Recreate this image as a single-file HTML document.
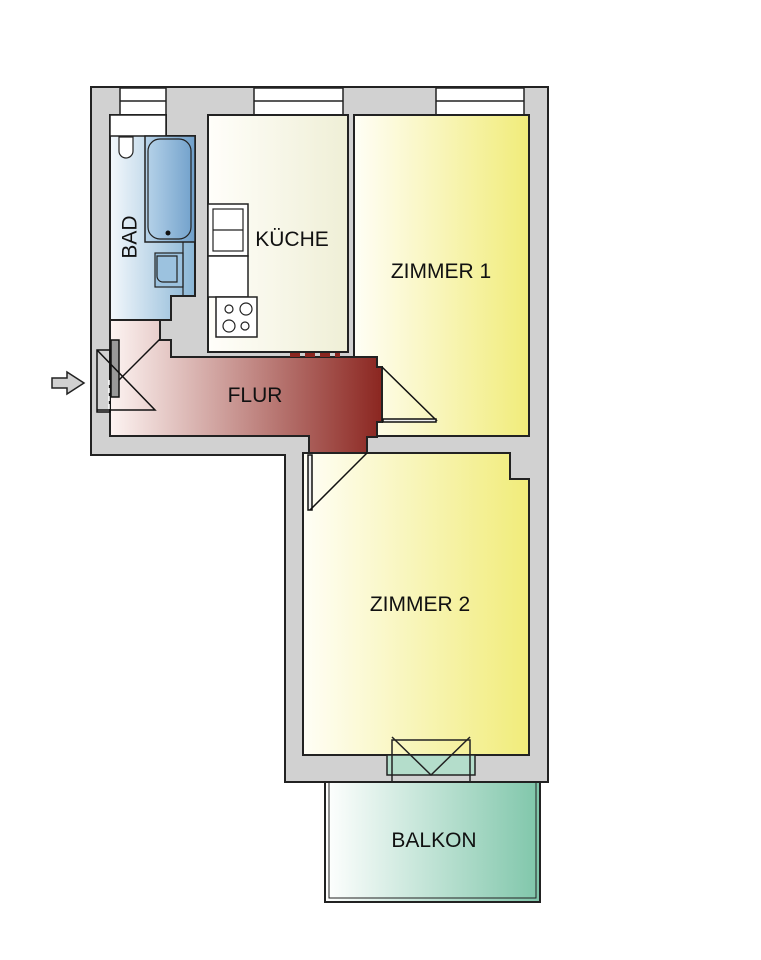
<!DOCTYPE html>
<html><head><meta charset="utf-8"><style>
html,body{margin:0;padding:0;background:#fff;}
svg{display:block;}
text{font-family:"Liberation Sans",sans-serif;font-size:21px;fill:#111;}
</style></head><body>
<svg width="761" height="960" viewBox="0 0 761 960" xmlns="http://www.w3.org/2000/svg">
<defs>
<linearGradient id="yel" x1="0" x2="1"><stop offset="0" stop-color="#fffef6"/><stop offset="1" stop-color="#f1ec7a"/></linearGradient>
<linearGradient id="kue" x1="0" x2="1"><stop offset="0" stop-color="#fffefa"/><stop offset="1" stop-color="#efefd6"/></linearGradient>
<linearGradient id="bad" x1="0" x2="1"><stop offset="0" stop-color="#f3f8fc"/><stop offset="1" stop-color="#8ab6d6"/></linearGradient>
<linearGradient id="tub" x1="0" x2="1"><stop offset="0" stop-color="#b8d4ea"/><stop offset="1" stop-color="#6f9fca"/></linearGradient>
<linearGradient id="flur" x1="0" x2="1"><stop offset="0" stop-color="#fdf4f2"/><stop offset="1" stop-color="#8b2620"/></linearGradient>
<linearGradient id="balk" x1="0" x2="1"><stop offset="0" stop-color="#ffffff"/><stop offset="1" stop-color="#7fc6aa"/></linearGradient>
</defs>
<polygon points="91,87 548,87 548,782 285,782 285,455 91,455" fill="#d1d1d1" stroke="#222" stroke-width="2"/>
<g fill="#fff" stroke="#222" stroke-width="1.5">
<rect x="120" y="88" width="46" height="27"/><line x1="120" y1="101" x2="166" y2="101"/>
<rect x="254" y="88" width="89" height="27"/><line x1="254" y1="101" x2="343" y2="101"/>
<rect x="436" y="88" width="88" height="27"/><line x1="436" y1="101" x2="524" y2="101"/>
</g>
<polygon points="110,115 166,115 166,136 195,136 195,296 171,296 171,320 110,320" fill="url(#bad)" stroke="#222" stroke-width="2"/>
<rect x="110" y="115" width="56" height="21" fill="#fff" stroke="#222" stroke-width="1.5"/>
<rect x="145" y="136" width="50" height="106" fill="url(#tub)" stroke="#222" stroke-width="1.5"/>
<rect x="148" y="139" width="43" height="100" rx="12" fill="none" stroke="#222" stroke-width="1.2"/>
<circle cx="168" cy="233" r="2.5" fill="#111"/>
<path d="M119,137 h14 v14 a7,7 0 0 1 -14,0 z" fill="#fff" stroke="#222" stroke-width="1.2"/>
<rect x="155" y="253" width="28" height="34" fill="#9cc2df" stroke="#222" stroke-width="1.2"/>
<path d="M157,256 h20 v26 h-14 a6,6 0 0 1 -6,-6z" fill="none" stroke="#222" stroke-width="1.2"/>
<line x1="183" y1="242" x2="183" y2="296" stroke="#222" stroke-width="1.2"/>
<rect x="208" y="115" width="140" height="237" fill="url(#kue)" stroke="#222" stroke-width="2"/>
<rect x="208" y="204" width="40" height="52" fill="#fff" stroke="#222" stroke-width="1.5"/>
<rect x="213" y="209" width="30" height="42" fill="none" stroke="#222" stroke-width="1.2"/>
<line x1="213" y1="230" x2="243" y2="230" stroke="#222" stroke-width="1.2"/>
<rect x="208" y="256" width="40" height="41" fill="#fff" stroke="#222" stroke-width="1.5"/>
<rect x="216" y="297" width="41" height="40" fill="#fff" stroke="#222" stroke-width="1.5"/>
<g fill="none" stroke="#222" stroke-width="1.2"><circle cx="229" cy="309" r="4"/><circle cx="246" cy="309" r="6"/><circle cx="229" cy="326" r="6"/><circle cx="245" cy="326" r="4"/></g>
<rect x="354" y="115" width="175" height="321" fill="url(#yel)" stroke="#222" stroke-width="2"/>
<polygon points="303,453 510,453 510,479 529,479 529,755 303,755" fill="url(#yel)" stroke="#222" stroke-width="2"/>
<polygon points="110,320 160,320 160,340 171,340 171,357 377,357 377,367 382,367 382,422 377,422 377,437 367,437 367,453 309,453 309,436 110,436" fill="url(#flur)" stroke="#222" stroke-width="2"/>
<line x1="290" y1="355" x2="340" y2="355" stroke="#8b2620" stroke-width="4" stroke-dasharray="10,5"/>
<g fill="none" stroke="#111" stroke-width="1.5">
<rect x="111" y="340" width="8" height="57" fill="#999"/>
<line x1="119" y1="380" x2="160" y2="339"/>
<rect x="97" y="350" width="13" height="62"/>
<polyline points="97,350 155,410 97,410"/>
<line x1="109" y1="380" x2="109" y2="410" stroke="#fff" stroke-dasharray="5,3"/>
<polyline points="382,367 436,420 383,420"/>
<rect x="383" y="419" width="53" height="3" fill="#eee"/>
<rect x="308" y="455" width="4" height="55" fill="#eee"/>
<line x1="310" y1="510" x2="367" y2="453"/>
</g>
<rect x="387" y="755" width="88" height="20" fill="#b4ddcb" stroke="#222" stroke-width="1.5"/>
<rect x="392" y="740" width="78" height="42" fill="none" stroke="#222" stroke-width="1.5"/>
<polyline points="392,737 431,775 470,737" fill="none" stroke="#222" stroke-width="1.5"/>
<rect x="325" y="782" width="215" height="120" fill="url(#balk)" stroke="#222" stroke-width="2"/>
<rect x="329" y="782" width="207" height="116" fill="none" stroke="#222" stroke-width="1"/>
<polygon points="52,378 67,378 67,372 84,383 67,394 67,388 52,388" fill="#d1d1d1" stroke="#222" stroke-width="1.5"/>
<text x="130" y="237" text-anchor="middle" dominant-baseline="central" transform="rotate(-90 130 237)">BAD</text>
<text x="292" y="246" text-anchor="middle">KÜCHE</text>
<text x="441" y="278" text-anchor="middle">ZIMMER 1</text>
<text x="255" y="402" text-anchor="middle">FLUR</text>
<text x="420" y="611" text-anchor="middle">ZIMMER 2</text>
<text x="434" y="847" text-anchor="middle">BALKON</text>
</svg>
</body></html>
